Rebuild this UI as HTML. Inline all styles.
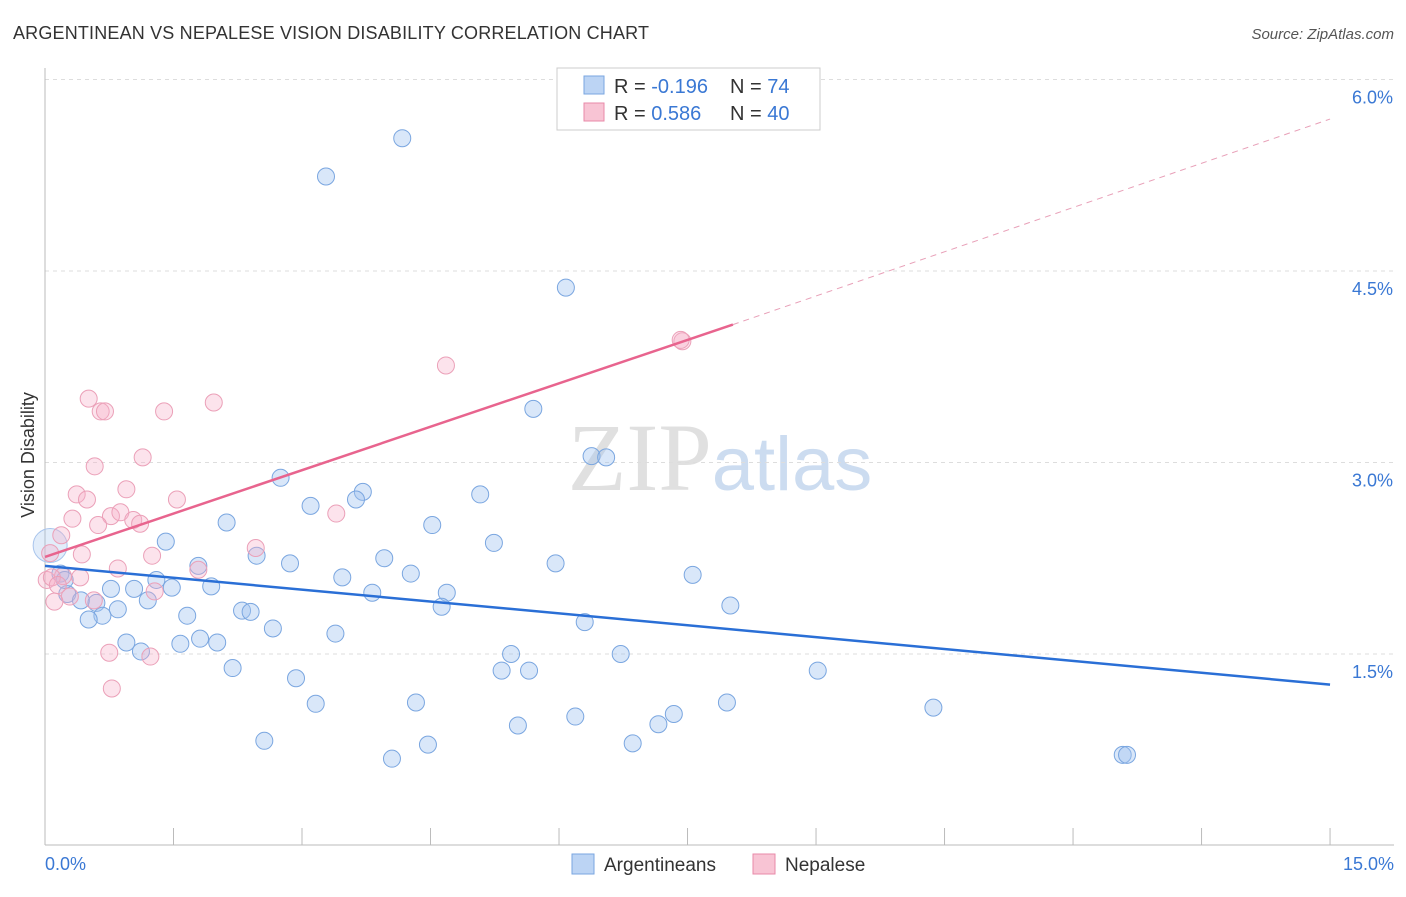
<!DOCTYPE html>
<html><head><meta charset="utf-8"><style>
body{margin:0;background:#fff;font-family:"Liberation Sans",sans-serif;}
</style></head><body>
<svg id="chart" width="1406" height="892" xmlns="http://www.w3.org/2000/svg" font-family="Liberation Sans, sans-serif">
<text x="13" y="39" font-size="18" fill="#333" textLength="636">ARGENTINEAN VS NEPALESE VISION DISABILITY CORRELATION CHART</text>
<text x="1394" y="39" font-size="15" fill="#555" text-anchor="end" font-style="italic">Source: ZipAtlas.com</text>
<text x="720" y="490" font-size="96" text-anchor="middle" fill="#e0e0e0" font-family="Liberation Serif, serif">ZIP<tspan fill="#ccdcf0" font-family="Liberation Sans, sans-serif" font-size="76">atlas</tspan></text>
<g id="grid"></g><g id="axes"></g><g id="marks"></g>
<text transform="translate(34,455) rotate(-90)" font-size="18" fill="#333" text-anchor="middle">Vision Disability</text>
<g>
<rect x="557" y="68" width="263" height="62" fill="#fff" stroke="#ccc"/>
<rect x="584" y="76" width="20" height="18" fill="#bcd4f4" stroke="#7aa6e0"/>
<rect x="584" y="103" width="20" height="18" fill="#f8c4d4" stroke="#e88aa8"/>
<text x="614" y="93" font-size="20" fill="#333">R = <tspan fill="#3a78d4">-0.196</tspan><tspan x="730">N = </tspan><tspan fill="#3a78d4">74</tspan></text>
<text x="614" y="120" font-size="20" fill="#333">R = <tspan fill="#3a78d4"> 0.586</tspan><tspan x="730">N = </tspan><tspan fill="#3a78d4">40</tspan></text>
</g>
<g>
<rect x="572" y="854" width="22" height="20" fill="#bcd4f4" stroke="#7aa6e0"/>
<text x="604" y="871" font-size="19" fill="#333">Argentineans</text>
<rect x="753" y="854" width="22" height="20" fill="#f8c4d4" stroke="#e88aa8"/>
<text x="785" y="871" font-size="19" fill="#333">Nepalese</text>
</g>
</svg>
<script>
const yTicks=[1.5,3.0,4.5,6.0];
const blueX=[4.17,3.28,6.08,5.70,6.38,6.55,2.75,5.08,3.71,3.63,3.10,2.12,4.52,1.41,5.24,2.47,3.96,5.96,2.86,1.79,4.27,7.56,3.47,1.30,1.48,1.94,1.04,0.77,3.82,4.69,0.26,0.42,0.60,1.20,8.00,0.85,4.63,2.30,2.40,0.67,1.66,0.51,6.30,2.66,3.39,0.95,1.12,1.58,1.81,2.01,6.72,5.44,2.19,5.33,5.65,9.02,2.93,3.16,4.33,7.96,10.37,7.34,6.19,7.16,5.52,2.56,6.86,4.47,4.05,12.58,12.63,0.06,0.18,0.23];
const blueY=[5.54,5.24,4.37,3.42,3.05,3.04,2.88,2.75,2.77,2.71,2.66,2.53,2.51,2.38,2.37,2.27,2.25,2.21,2.21,2.19,2.13,2.12,2.10,2.08,2.02,2.03,2.01,2.01,1.98,1.98,1.97,1.92,1.90,1.92,1.88,1.85,1.87,1.84,1.83,1.80,1.80,1.77,1.75,1.70,1.66,1.59,1.52,1.58,1.62,1.59,1.50,1.50,1.39,1.37,1.37,1.37,1.31,1.11,1.12,1.12,1.08,1.03,1.01,0.95,0.94,0.82,0.80,0.79,0.68,0.71,0.71,2.35,2.13,2.08];
const pinkX=[7.44,4.68,0.51,0.65,0.70,1.39,1.97,1.14,0.58,0.95,0.37,0.49,1.54,3.40,0.77,0.88,1.03,1.11,0.62,0.32,0.19,2.46,1.25,0.43,0.06,0.85,1.79,0.21,0.41,1.28,0.29,0.57,0.11,0.75,1.23,0.78,0.02,0.08,0.15,7.42];
const pinkY=[3.95,3.76,3.50,3.40,3.40,3.40,3.47,3.04,2.97,2.79,2.75,2.71,2.71,2.60,2.58,2.61,2.55,2.52,2.51,2.56,2.43,2.33,2.27,2.28,2.29,2.17,2.16,2.11,2.10,1.99,1.95,1.92,1.91,1.51,1.48,1.23,2.08,2.10,2.04,3.96];
const blueTrend=[2.19,1.26];
const pinkTrend=[2.26,4.08,5.69];
const pinkTrendSolidEnd=8.03;
const X=v=>45+v*85.67, Y=v=>845.5-v*127.67;
const NS='http://www.w3.org/2000/svg';
function mk(parent,tag,attrs){const e=document.createElementNS(NS,tag);for(const k in attrs)e.setAttribute(k,attrs[k]);document.getElementById(parent).appendChild(e);return e;}
yTicks.forEach(t=>{
 const l=mk('grid','line',{x1:45,x2:1394,y1:Y(t),y2:Y(t),stroke:'#ddd','stroke-dasharray':'4,4'});
 
 
 const tx=mk('grid','text',{x:1393,y:Y(t)+24,'font-size':18,fill:'#3a78d4','text-anchor':'end'});
 tx.textContent=t.toFixed(1)+'%';
 
 
});
const ax=mk('axes','line',{x1:45,x2:45,y1:68,y2:845,stroke:'#bbb'});


const bx=mk('axes','line',{x1:45,x2:1394,y1:845,y2:845,stroke:'#bbb'});


for(let i=0;i<=10;i++){const t=mk('axes','line',{x1:X(i*1.5),x2:X(i*1.5),y1:828,y2:845,stroke:'#bbb'});
 
 }
const x0=mk('axes','text',{x:45,y:870,'font-size':18,fill:'#3a78d4'});x0.textContent='0.0%';


const x1=mk('axes','text',{x:1394,y:870,'font-size':18,fill:'#3a78d4','text-anchor':'end'});x1.textContent='15.0%';


blueX.forEach((v,i)=>{const big=i==71;const c=mk('marks','circle',{cx:X(v),cy:Y(blueY[i]),r:big?17:8.5,fill:big?'rgba(160,195,240,0.3)':'rgba(160,195,240,0.4)',stroke:big?'#a8c4ec':'#7aa6e0','stroke-width':1});
 
 });
pinkX.forEach((v,i)=>{const c=mk('marks','circle',{cx:X(v),cy:Y(pinkY[i]),r:8.5,fill:'rgba(245,175,200,0.35)',stroke:'#eba0b8','stroke-width':1});
 
 });
const bl=mk('marks','line',{x1:X(0),y1:Y(blueTrend[0]),x2:X(15),y2:Y(blueTrend[1]),stroke:'#2a6fd6','stroke-width':2.5});


const pl=mk('marks','line',{x1:X(0),y1:Y(pinkTrend[0]),x2:X(pinkTrendSolidEnd),y2:Y(pinkTrend[1]),stroke:'#e8648e','stroke-width':2.5});


const pd=mk('marks','line',{x1:X(pinkTrendSolidEnd),y1:Y(pinkTrend[1]),x2:X(15),y2:Y(pinkTrend[2]),stroke:'#e8a0b8','stroke-width':1,'stroke-dasharray':'6,5'});


</script>
</body></html>
